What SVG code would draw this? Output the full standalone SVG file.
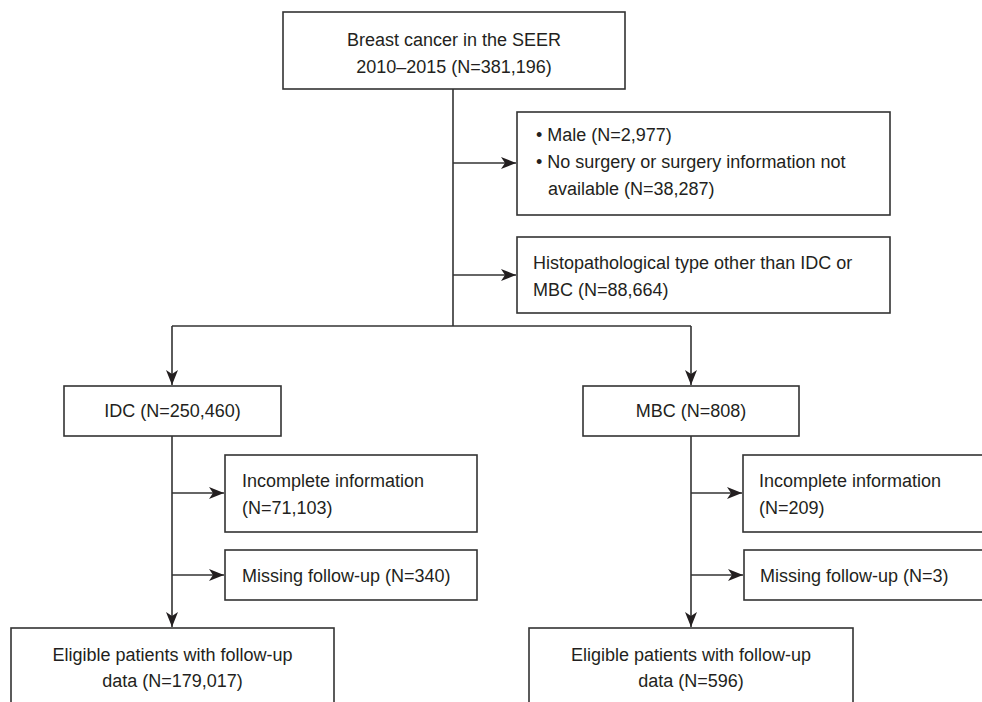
<svg xmlns="http://www.w3.org/2000/svg" width="982" height="702" viewBox="0 0 982 702">
<style>
.box{fill:#fff;stroke:#333;stroke-width:1.6}
.t{font-family:"Liberation Sans",Arial,sans-serif;font-size:18px;fill:#231f20}
.c{text-anchor:middle}
.ln{fill:none;stroke:#333;stroke-width:1.6}
</style>
<defs>
<marker id="ah" markerUnits="userSpaceOnUse" markerWidth="16" markerHeight="14" refX="15" refY="7" orient="auto">
<path d="M0,1 L15,7 L0,13 L4,7 z" fill="#231f20"/>
</marker>
</defs>
<rect width="982" height="702" fill="#fff"/>
<g id="connectors">
<path class="ln" d="M453,89 V326"/>
<path class="ln" d="M453,163 H516" marker-end="url(#ah)"/>
<path class="ln" d="M453,275 H516" marker-end="url(#ah)"/>
<path class="ln" d="M172,326 H691"/>
<path class="ln" d="M172,326 V385" marker-end="url(#ah)"/>
<path class="ln" d="M691,326 V385" marker-end="url(#ah)"/>
<path class="ln" d="M172,436 V627" marker-end="url(#ah)"/>
<path class="ln" d="M172,493 H224" marker-end="url(#ah)"/>
<path class="ln" d="M172,575 H224" marker-end="url(#ah)"/>
<path class="ln" d="M691,436 V627" marker-end="url(#ah)"/>
<path class="ln" d="M691,493 H742" marker-end="url(#ah)"/>
<path class="ln" d="M691,575 H743" marker-end="url(#ah)"/>
</g>
<g id="seer">
<rect class="box" x="283" y="12" width="342" height="77"/>
<text class="t c" x="454" y="46">Breast cancer in the SEER</text>
<text class="t c" x="454" y="73">2010–2015 (N=381,196)</text>
</g>
<g id="excl1">
<rect class="box" x="517" y="112" width="373" height="103"/>
<text class="t" x="536" y="141">• Male (N=2,977)</text>
<text class="t" x="536" y="168">• No surgery or surgery information not</text>
<text class="t" x="548" y="195">available (N=38,287)</text>
</g>
<g id="excl2">
<rect class="box" x="517" y="237" width="373" height="76"/>
<text class="t" x="533" y="269">Histopathological type other than IDC or</text>
<text class="t" x="533" y="296">MBC (N=88,664)</text>
</g>
<g id="idc">
<rect class="box" x="64" y="386" width="217" height="50"/>
<text class="t c" x="172.5" y="417">IDC (N=250,460)</text>
</g>
<g id="mbc">
<rect class="box" x="583" y="386" width="216" height="50"/>
<text class="t c" x="691" y="417">MBC (N=808)</text>
</g>
<g id="idc-incomplete">
<rect class="box" x="225" y="455" width="252" height="77"/>
<text class="t" x="242" y="487">Incomplete information</text>
<text class="t" x="242" y="514">(N=71,103)</text>
</g>
<g id="idc-missing">
<rect class="box" x="225" y="550" width="252" height="50"/>
<text class="t" x="242" y="582">Missing follow-up (N=340)</text>
</g>
<g id="mbc-incomplete">
<rect class="box" x="743" y="455" width="250" height="77"/>
<text class="t" x="759" y="487">Incomplete information</text>
<text class="t" x="759" y="514">(N=209)</text>
</g>
<g id="mbc-missing">
<rect class="box" x="744" y="550" width="250" height="50"/>
<text class="t" x="760" y="582">Missing follow-up (N=3)</text>
</g>
<g id="idc-eligible">
<rect class="box" x="11" y="628" width="323" height="90"/>
<text class="t c" x="172.5" y="661">Eligible patients with follow-up</text>
<text class="t c" x="172.5" y="687">data (N=179,017)</text>
</g>
<g id="mbc-eligible">
<rect class="box" x="529" y="628" width="324" height="90"/>
<text class="t c" x="691" y="661">Eligible patients with follow-up</text>
<text class="t c" x="691" y="687">data (N=596)</text>
</g>
</svg>
